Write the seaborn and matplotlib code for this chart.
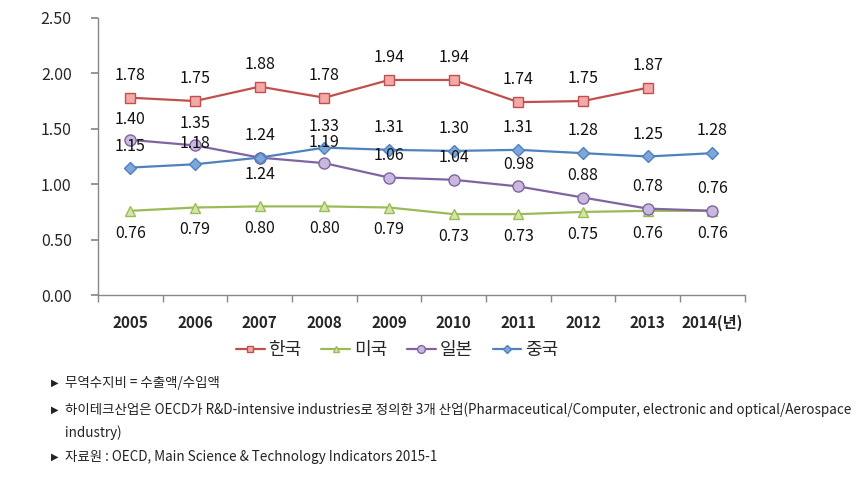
import numpy as np
import pandas as pd
import matplotlib
matplotlib.use("Agg")
import matplotlib.pyplot as plt
import seaborn as sns

# data
years = ["2005", "2006", "2007", "2008", "2009", "2010", "2011", "2012", "2013", "2014"]
korea = [1.78, 1.75, 1.88, 1.78, 1.94, 1.94, 1.74, 1.75, 1.87]
usa = [0.76, 0.79, 0.80, 0.80, 0.79, 0.73, 0.73, 0.75, 0.76, 0.76]
japan = [1.40, 1.35, 1.24, 1.19, 1.06, 1.04, 0.98, 0.88, 0.78, 0.76]
china = [1.15, 1.18, 1.24, 1.33, 1.31, 1.30, 1.31, 1.28, 1.25, 1.28]
names = ["한국", "미국", "일본", "중국"]
notes = [
    "무역수지비 = 수출액/수입액",
    "하이테크산업은 OECD가 R&D-intensive industries로 정의한 3개 산업(Pharmaceutical/Computer, electronic and optical/Aerospace",
    "industry)",
    "자료원 : OECD, Main Science & Technology Indicators 2015-1",
]

sns.set_theme(style="white")
plt.rcParams["font.family"] = ["Noto Sans CJK KR", "DejaVu Sans"]

fig = plt.figure(figsize=(8.6, 4.83), dpi=100)
ax = fig.add_axes([0.114, 0.389, 0.752, 0.574])

series = [
    (korea, "#C0504D", "#F2A9A7", "s", 7),
    (usa, "#9BBB59", "#D3E6A8", "^", 7),
    (japan, "#8064A2", "#C8B8DD", "o", 8),
    (china, "#4F81BD", "#7EA6DA", "D", 6),
]
x_idx = np.arange(len(years))
for (vals, lc, fc, mk, ms), name in zip(series, names):
    sns.lineplot(x=x_idx[:len(vals)], y=vals, ax=ax, color=lc, marker=mk,
                 markersize=ms, markerfacecolor=fc, markeredgecolor=lc,
                 markeredgewidth=1, linewidth=1.6, label=name)

# data labels: offsets in points (positive = above)
offs = [
    [16] * 9,
    [-16] * 10,
    [15, 16, -12, 15, 16, 16, 16, 16, 16, 16],
    [15, 15, 16, 15, 16, 16, 16, 16, 16, 16],
]
for i, (vals, *_rest) in enumerate(series):
    for j, v in enumerate(vals):
        ax.annotate(f"{v:.2f}", (j, v), xytext=(0, offs[i][j]), textcoords="offset points",
                    ha="center", va="center", fontsize=11.5, color="#111111")

ax.set_xlim(-0.5, 9.5)
ax.set_ylim(0, 2.5)
ax.set_yticks([0, 0.5, 1.0, 1.5, 2.0, 2.5])
ax.set_yticklabels([f"{t:.2f}" for t in [0, 0.5, 1.0, 1.5, 2.0, 2.5]], fontsize=11.5)
ax.set_xticks(x_idx)
ax.set_xticklabels(years[:-1] + ["2014(년)"], fontsize=11, fontweight="bold")
ax.set_xticks(np.arange(-0.5, 10, 1), minor=True)
ax.tick_params(axis="x", which="major", length=0, pad=14)
ax.tick_params(axis="x", which="minor", length=5, color="#888888", direction="out", bottom=True)
ax.tick_params(axis="y", length=5, color="#888888", direction="out", left=True, pad=14)
for s in ["top", "right"]:
    ax.spines[s].set_visible(False)
for s in ["left", "bottom"]:
    ax.spines[s].set_color("#888888")
    ax.spines[s].set_linewidth(1)
ax.set_xlabel("")
ax.set_ylabel("")

leg = ax.legend(loc="center", bbox_to_anchor=(397 / 860, 1 - 350 / 483), bbox_transform=fig.transFigure,
                ncol=4, frameon=False, fontsize=13, handlelength=1.6, handletextpad=0.2,
                columnspacing=1.1, markerscale=0.7)

ys = [383, 410, 433, 457]
for k, (t, yy) in enumerate(zip(notes, ys)):
    if k != 2:
        fig.text(51 / 860, 1 - yy / 483, "▶", fontsize=7, va="center", ha="left", color="#222222",
                 family=["DejaVu Sans"])
    fig.text(65 / 860, 1 - yy / 483, t, fontsize=9.7, va="center", ha="left", color="#222222")

fig.savefig("out.png", dpi=100)
